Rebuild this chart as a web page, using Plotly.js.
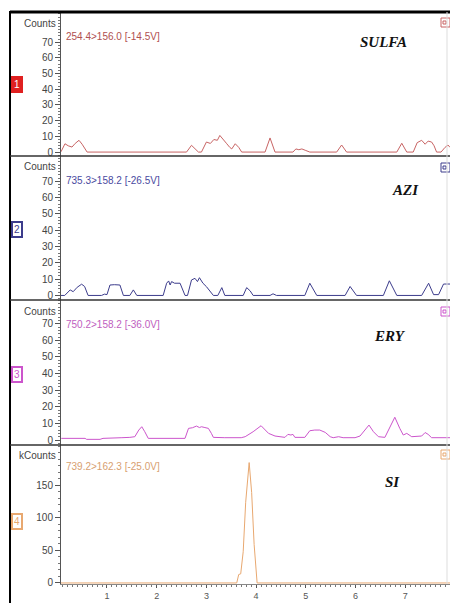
<!DOCTYPE html>
<html>
<head>
<meta charset="utf-8">
<script src="https://cdn.plot.ly/plotly-3.0.1.min.js"></script>
<style>html,body{margin:0;padding:0;background:#fff;}#chart{width:450px;height:603px;}</style>
</head>
<body>
<div id="chart"></div>
<script>
// ---- data (retention time in minutes, signal) ----
const sulfaTime = [0.075,0.155,0.22,0.296,0.36,0.437,0.50,0.60,2.60,2.70,2.84,2.90,3.00,3.08,3.15,3.22,3.27,3.33,3.41,3.47,3.51,3.58,3.65,3.71,4.18,4.28,4.38,4.74,4.80,4.86,4.92,5.00,5.08,5.62,5.72,5.82,6.83,6.93,7.03,7.16,7.24,7.33,7.40,7.46,7.53,7.58,7.63,7.72,7.80,7.86,7.90];
const sulfaCounts = [0.2,5.3,4.0,3.2,5.5,7.5,5.0,0,0,4.3,0,0,6.4,5.5,8.0,7.5,10.6,8.0,5.3,3.0,2.0,5.3,3.0,0,0,9.0,0,0,2.0,1.5,2.0,1.0,0,0,4.5,0,0,5.6,0,0,6.0,7.5,5.0,7.0,6.4,4.0,0,0,3.0,4.5,3.0];

const aziTime = [0.055,0.15,0.26,0.32,0.40,0.49,0.55,0.62,0.89,0.95,1.00,1.06,1.15,1.26,1.33,1.46,1.53,1.60,2.13,2.20,2.24,2.27,2.30,2.36,2.47,2.57,2.62,2.70,2.77,2.82,2.86,2.93,3.00,3.07,3.14,3.23,3.31,3.37,3.74,3.81,3.88,3.94,4.28,4.34,4.41,4.98,5.08,5.22,5.79,5.89,6.02,6.56,6.68,6.83,7.33,7.47,7.57,7.67,7.77,7.90];
const aziCounts = [0,0,3.4,2.3,5.0,6.9,5.5,0,0,0.8,0.5,6.4,6.6,6.4,0,0,3.4,0,0,7.5,8.9,6.4,8.5,7.5,7.5,0,0,9.5,10.5,8.5,10.9,7.5,5.4,2.3,0,0,4.8,0,0,4.8,2.8,0,0,1.0,0,0,7.5,0,0,5.5,0,0,9.0,0,0,7.5,0.5,0.5,7.0,7.0];

const eryTime = [0.08,0.56,0.59,0.86,0.92,1.10,1.30,1.46,1.56,1.64,1.70,1.76,1.83,2.57,2.64,2.72,2.80,2.86,2.90,2.97,3.04,3.10,3.14,3.37,3.70,3.78,3.94,4.10,4.25,4.38,4.58,4.64,4.70,4.74,4.78,4.98,5.08,5.18,5.28,5.39,5.49,5.55,5.66,5.75,5.99,6.09,6.19,6.27,6.36,6.46,6.59,6.69,6.79,6.89,6.96,7.03,7.13,7.33,7.40,7.46,7.53,7.90];
const eryCounts = [1.0,1.0,0.4,0.4,1.0,1.0,1.4,1.6,2.0,6.0,8.0,5.0,1.0,1.0,7.0,7.4,8.4,7.5,8.0,7.5,7.0,4.0,1.6,1.4,1.4,2.0,5.0,8.6,4.0,2.4,1.6,3.4,3.0,3.4,1.6,1.6,5.6,6.0,6.0,4.6,2.0,1.4,2.0,1.4,1.4,2.4,6.0,9.0,5.0,2.0,1.6,8.0,13.7,7.0,3.0,4.0,2.0,2.4,4.5,3.4,1.4,1.4];

const siTime = [0.075,3.61,3.65,3.69,3.74,3.79,3.86,3.91,3.96,4.02,7.90];
const siKCounts = [0,0,13,14,48,124,185,139,59,0,0];

const countTicks = [0,10,20,30,40,50,60,70];
const kCountTicks = [0,50,100,150];
const timeTicks = [1,2,3,4,5,6,7];

const transitions = ["254.4>156.0 [-14.5V]","735.3>158.2 [-26.5V]","750.2>158.2 [-36.0V]","739.2>162.3 [-25.0V]"];
const compounds = ["SULFA","AZI","ERY","SI"];
const channelNums = ["1","2","3","4"];
const unitLabels = ["Counts","Counts","Counts","kCounts"];

// ---- styling / geometry ----
const W=450,H=603,ML=61,MR=0,MT=12,MB=19;
const PW=W-ML-MR, PH=H-MT-MB;
const px2x = p => (p-ML)/PW;
const py2y = p => (H-MB-p)/PH;
const colors = ["#c86464","#3c3c8c","#cc55cc","#e8a870"];
const textColors = ["#b05050","#4a4aa0","#c060c0","#d8a070"];
const tickFont = {family:"Liberation Sans, Arial, sans-serif", size:10, color:"#444"};

const series = [[sulfaTime,sulfaCounts],[aziTime,aziCounts],[eryTime,eryCounts],[siTime,siKCounts]];
const yNames = ["y","y2","y3","y4"];
const traces = series.map((s,i)=>({
  x:s[0], y:s[1], type:"scatter", mode:"lines", xaxis:"x", yaxis:yNames[i],
  line:{color:colors[i], width:1}, hoverinfo:"skip", showlegend:false
}));

// panel pixel extents [top, bottom] and y ranges
const panelPx = [[12,156],[156,300],[300,445],[445,584]];
const yRanges = [[-2.5,89.2],[-2.8,85.6],[-3.0,84.3],[-1.6,212]];

function yAxis(i){
  const ticks = i===3 ? kCountTicks : countTicks;
  return {
    domain:[py2y(panelPx[i][1]), py2y(panelPx[i][0])],
    range: yRanges[i], anchor:"x", showgrid:false, zeroline:false,
    showline:true, linecolor:"#555", linewidth:1,
    tickmode:"array", tickvals:ticks, ticktext:ticks.map(String),
    ticks:"outside", ticklen:5, tickcolor:"#555", tickfont:tickFont,
    minor:{dtick: i===3 ? 10 : 2, tick0:0, ticks:"outside", ticklen:2, tickcolor:"#777", showgrid:false},
    fixedrange:true
  };
}

const layout = {
  width:W, height:H, margin:{l:ML,r:MR,t:MT,b:MB,pad:0},
  paper_bgcolor:"#fff", plot_bgcolor:"#fff", showlegend:false,
  xaxis:{range:[0.075,7.9], anchor:"y4", showgrid:false, zeroline:false,
    showline:true, linecolor:"#888", linewidth:1,
    tickmode:"array", tickvals:timeTicks, ticktext:timeTicks.map(String),
    ticks:"outside", ticklen:3, tickcolor:"#555",
    tickfont:{family:"Liberation Sans, Arial, sans-serif", size:9, color:"#555"},
    minor:{dtick:0.1, tick0:0, ticks:"outside", ticklen:2, tickcolor:"#777", showgrid:false}},
  yaxis:yAxis(0), yaxis2:yAxis(1), yaxis3:yAxis(2), yaxis4:yAxis(3),
  annotations:[], shapes:[]
};

// annotation positions (pixels)
const unitY=[24,167,311,455];
const headY=[36,181,324,466];
const compX=[383,405,390,392], compY=[42,190,336,482];
const boxY=[85,229,374,521];
const iconY=[18,163,307,450];

for(let i=0;i<4;i++){
  layout.annotations.push({xref:"paper",yref:"paper",x:px2x(58),y:py2y(unitY[i]),xanchor:"right",yanchor:"middle",
    text:unitLabels[i],showarrow:false,font:tickFont});
  layout.annotations.push({xref:"paper",yref:"paper",x:px2x(64),y:py2y(headY[i]),xanchor:"left",yanchor:"middle",
    text:transitions[i],showarrow:false,font:{family:"Liberation Sans, Arial, sans-serif",size:10,color:textColors[i]}});
  layout.annotations.push({xref:"paper",yref:"paper",x:px2x(compX[i]),y:py2y(compY[i]),xanchor:"center",yanchor:"middle",
    text:"<b><i>"+compounds[i]+"</i></b>",showarrow:false,font:{family:"Liberation Serif, Times New Roman, serif",size:15,color:"#111"}});
  const filled = i===0;
  layout.annotations.push({xref:"paper",yref:"paper",x:px2x(17),y:py2y(boxY[i]),xanchor:"center",yanchor:"middle",
    text:channelNums[i],showarrow:false,
    font:{family:"Liberation Sans, Arial, sans-serif",size:10,color: filled?"#fff":colors[i]},
    bgcolor: filled?"#e02020":"rgba(0,0,0,0)", bordercolor: filled?"#e02020":colors[i], borderwidth:2, borderpad:1});
  // small icon at top-right
  layout.shapes.push({type:"rect",xref:"paper",yref:"paper",x0:px2x(441),x1:px2x(450),y0:py2y(iconY[i]+9),y1:py2y(iconY[i]),
    line:{color:colors[i],width:1},fillcolor:"rgba(0,0,0,0)"});
  layout.shapes.push({type:"rect",xref:"paper",yref:"paper",x0:px2x(443),x1:px2x(446),y0:py2y(iconY[i]+6),y1:py2y(iconY[i]+3),
    line:{color:colors[i],width:1},fillcolor:"rgba(0,0,0,0)"});
}
// frame lines
layout.shapes.push({type:"line",xref:"paper",yref:"paper",x0:px2x(10),x1:px2x(10),y0:py2y(603),y1:py2y(11),line:{color:"#000",width:2}});
layout.shapes.push({type:"line",xref:"paper",yref:"paper",x0:px2x(10),x1:px2x(450),y0:py2y(12),y1:py2y(12),line:{color:"#000",width:3}});
[156,300,445].forEach(p=>{
  layout.shapes.push({type:"line",xref:"paper",yref:"paper",x0:px2x(10),x1:px2x(450),y0:py2y(p),y1:py2y(p),line:{color:"#333",width:1.5}});
});
layout.shapes.push({type:"line",xref:"paper",yref:"paper",x0:px2x(447),x1:px2x(447),y0:py2y(584),y1:py2y(12),line:{color:"#ddd",width:1}});

Plotly.newPlot("chart", traces, layout, {displayModeBar:false, staticPlot:true});
</script>
</body>
</html>
